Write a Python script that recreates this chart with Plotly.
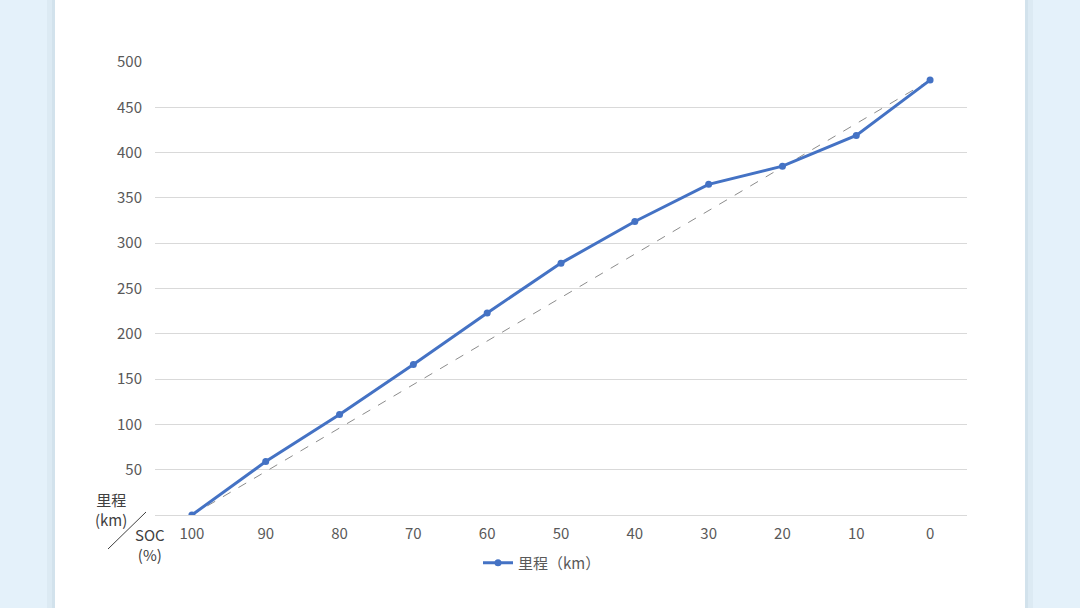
import plotly.graph_objects as go

soc = ["100", "90", "80", "70", "60", "50", "40", "30", "20", "10", "0"]
mileage = [0, 59, 111, 166, 223, 278, 324, 365, 385, 419, 480]
y_ticks = [50, 100, 150, 200, 250, 300, 350, 400, 450, 500]
series_name = "里程（km）"

W, H = 1080, 608
L, R, T, B = 155, 113, 62, 93
pw, ph = W - L - R, H - T - B

def px(x):
    return (x - L) / pw

def py(y):
    return (H - B - y) / ph

font = "Noto Sans CJK SC, Noto Sans, sans-serif"
tc = "#595959"

fig = go.Figure()
fig.add_trace(go.Scatter(
    x=[soc[0], soc[-1]], y=[mileage[0], mileage[-1]], mode="lines",
    line=dict(color="#8c8c8c", width=1, dash="dash"), showlegend=False, hoverinfo="skip"))
fig.add_trace(go.Scatter(
    x=soc, y=mileage, mode="lines+markers", name=series_name,
    line=dict(color="#4472C4", width=3), marker=dict(color="#4472C4", size=7)))

shapes = [
    dict(type="rect", xref="paper", yref="paper", x0=px(47), x1=px(52), y0=py(H), y1=py(0),
         fillcolor="#dceaf3", line_width=0, layer="below"),
    dict(type="rect", xref="paper", yref="paper", x0=px(52), x1=px(55), y0=py(H), y1=py(0),
         fillcolor="#d2e2ec", line_width=0, layer="below"),
    dict(type="rect", xref="paper", yref="paper", x0=px(1025), x1=px(1028), y0=py(H), y1=py(0),
         fillcolor="#d2e2ec", line_width=0, layer="below"),
    dict(type="rect", xref="paper", yref="paper", x0=px(1028), x1=px(1033), y0=py(H), y1=py(0),
         fillcolor="#dceaf3", line_width=0, layer="below"),
    dict(type="rect", xref="paper", yref="paper", x0=px(55), x1=px(1025), y0=py(H), y1=py(0),
         fillcolor="white", line_width=0, layer="below"),
    dict(type="line", xref="paper", yref="paper", x0=px(108), x1=px(146), y0=py(549), y1=py(512),
         line=dict(color="#404040", width=1)),
]

annotations = [
    dict(text="里程<br>(km)", xref="paper", yref="paper", x=px(111), y=py(509),
         xanchor="center", yanchor="middle", showarrow=False,
         font=dict(family=font, size=15, color="#404040"), align="center"),
    dict(text="SOC<br>(%)", xref="paper", yref="paper", x=px(150), y=py(544),
         xanchor="center", yanchor="middle", showarrow=False,
         font=dict(family=font, size=15, color="#404040"), align="center"),
]

fig.update_layout(
    width=W, height=H, margin=dict(l=L, r=R, t=T, b=B),
    paper_bgcolor="#e4f1fa", plot_bgcolor="white",
    font=dict(family=font, size=15, color=tc),
    shapes=shapes, annotations=annotations,
    showlegend=True,
    legend=dict(orientation="h", x=px(542), xanchor="center", y=py(563), yanchor="middle",
                font=dict(family=font, size=15, color=tc), bgcolor="rgba(0,0,0,0)",
                itemwidth=30),
    xaxis=dict(type="category", categoryorder="array", categoryarray=soc,
               range=[-0.5, len(soc) - 0.5],
               showgrid=False, showline=False, ticks="", tickfont=dict(size=15, color=tc),
               ticklabelstandoff=8, zeroline=False),
    yaxis=dict(range=[0, 500], tickvals=y_ticks, showgrid=True, gridcolor="#d9d9d9",
               gridwidth=1, zeroline=True, zerolinecolor="#d9d9d9", zerolinewidth=1,
               showline=False, ticks="", ticklabelstandoff=12,
               tickfont=dict(size=15, color=tc)),
)

fig.write_html("out.html", config={"displayModeBar": False},
               post_script="document.body.style.margin='0';document.body.style.padding='0';")
